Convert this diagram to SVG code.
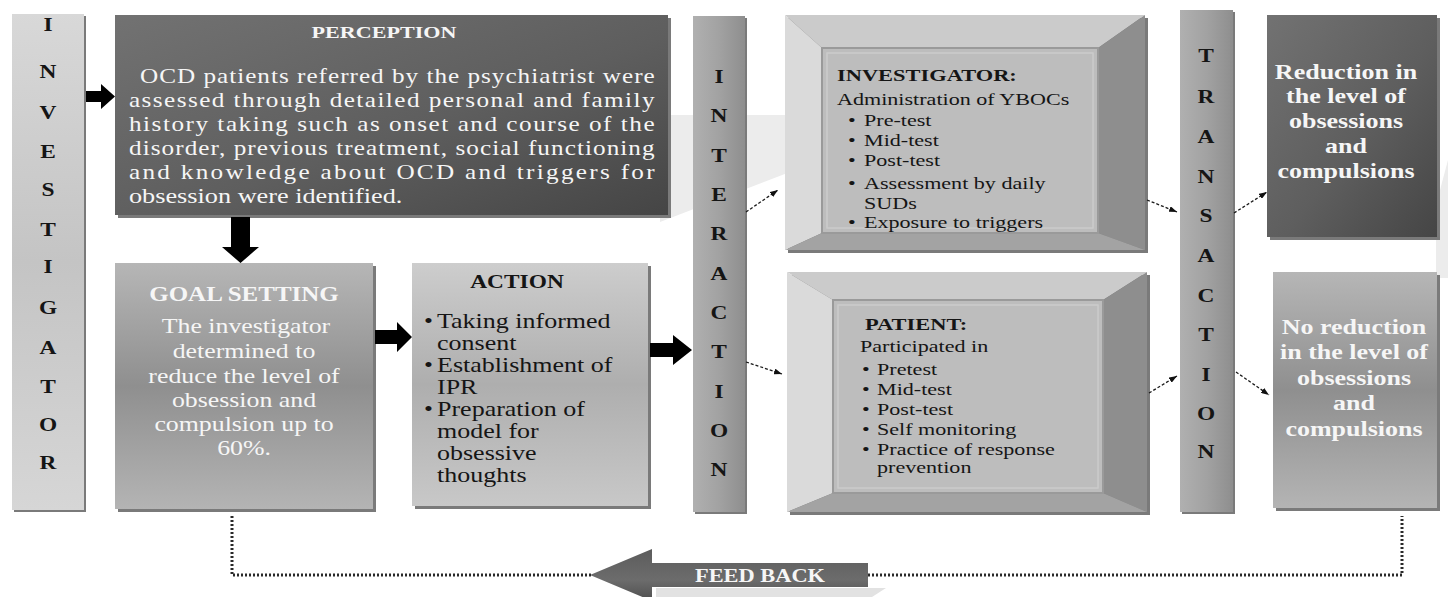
<svg xmlns="http://www.w3.org/2000/svg" width="1448" height="597" viewBox="0 0 1448 597">
<defs>
  <linearGradient id="gBarLight" x1="0" y1="0" x2="0" y2="1">
    <stop offset="0" stop-color="#d8d8d8"/><stop offset="0.5" stop-color="#c4c4c4"/><stop offset="1" stop-color="#d6d6d6"/>
  </linearGradient>
  <linearGradient id="gBarMid" x1="0" y1="0" x2="1" y2="0">
    <stop offset="0" stop-color="#b0b0b0"/><stop offset="0.5" stop-color="#a2a2a2"/><stop offset="1" stop-color="#8e8e8e"/>
  </linearGradient>
  <linearGradient id="gDark" x1="0" y1="0" x2="1" y2="1">
    <stop offset="0" stop-color="#727272"/><stop offset="0.55" stop-color="#5e5e5e"/><stop offset="1" stop-color="#454545"/>
  </linearGradient>
  <linearGradient id="gMid" x1="0" y1="0" x2="0" y2="1">
    <stop offset="0" stop-color="#b6b6b6"/><stop offset="0.5" stop-color="#8f8f8f"/><stop offset="1" stop-color="#b4b4b4"/>
  </linearGradient>
  <linearGradient id="gAction" x1="0" y1="0" x2="0" y2="1">
    <stop offset="0" stop-color="#cdcdcd"/><stop offset="0.5" stop-color="#aeaeae"/><stop offset="1" stop-color="#c8c8c8"/>
  </linearGradient>
  <linearGradient id="gFeed" x1="0" y1="0" x2="0" y2="1">
    <stop offset="0" stop-color="#5c5c5c"/><stop offset="0.6" stop-color="#6c6c6c"/><stop offset="1" stop-color="#4e4e4e"/>
  </linearGradient>
  <marker id="ah" viewBox="0 0 8 6" markerWidth="8" markerHeight="6" refX="8" refY="3" orient="auto" markerUnits="userSpaceOnUse">
    <path d="M0,0 L8,3 L0,6 z" fill="#111"/>
  </marker>
</defs>
<style>
  text{font-family:"Liberation Serif","Times New Roman",serif;}
  .shadow{fill:#7a7a7a;}
  .bar{font-size:18px;font-weight:bold;fill:#151515;text-anchor:middle;}
  .wt{fill:#f6f6f6;}
  .dk{fill:#151515;}
  .ttl{font-weight:bold;}
  .mid{text-anchor:middle;}
  .body20{font-size:20px;}
  .body21{font-size:21px;}
  .body17{font-size:17px;}
  .thin{stroke:#1a1a1a;stroke-width:1.3;stroke-dasharray:3 2;fill:none;marker-end:url(#ah);}
  .dots{stroke:#2a2a2a;stroke-width:3;stroke-dasharray:2 2;fill:none;}
  .block{fill:#000;}
</style>

<!-- faint background shapes -->
<g id="background" fill="#ececec">
  <polygon points="660,115 790,115 790,172 660,222"/>
  <polygon points="1436,205 1448,160 1448,278 1436,278"/>
  <polygon points="656,588 886,588 872,597 656,597" fill="#e2e2e2"/>
</g>

<!-- INVESTIGATOR bar -->
<g id="investigator-bar">
  <rect x="14" y="16" width="72" height="496" class="shadow"/>
  <rect x="12" y="14" width="72" height="496" fill="url(#gBarLight)"/>
  <text class="bar" transform="translate(48,0) scale(1.3,1)">
    <tspan x="0" y="31">I</tspan><tspan x="0" y="78">N</tspan><tspan x="0" y="119">V</tspan><tspan x="0" y="158">E</tspan><tspan x="0" y="196">S</tspan><tspan x="0" y="236">T</tspan><tspan x="0" y="273">I</tspan><tspan x="0" y="314">G</tspan><tspan x="0" y="354">A</tspan><tspan x="0" y="393">T</tspan><tspan x="0" y="431">O</tspan><tspan x="0" y="469">R</tspan>
  </text>
</g>

<!-- PERCEPTION -->
<g id="perception">
  <rect x="118" y="18" width="553" height="200" class="shadow"/>
  <rect x="115" y="15" width="553" height="200" fill="url(#gDark)"/>
  <text class="wt ttl mid" font-size="17" transform="translate(384,38) scale(1.3,1)">PERCEPTION</text>
  <g class="wt body21">
    <text transform="translate(140,83) scale(1.2,1)" textLength="429" lengthAdjust="spacing">OCD patients referred by the psychiatrist were</text>
    <text transform="translate(129,107) scale(1.2,1)" textLength="438" lengthAdjust="spacing">assessed through detailed personal and family</text>
    <text transform="translate(129,131) scale(1.2,1)" textLength="438" lengthAdjust="spacing">history taking such as onset and course of the</text>
    <text transform="translate(129,155) scale(1.2,1)" textLength="438" lengthAdjust="spacing">disorder, previous treatment, social functioning</text>
    <text transform="translate(129,179) scale(1.2,1)" textLength="438" lengthAdjust="spacing">and knowledge about OCD and triggers for</text>
    <text transform="translate(129,203) scale(1.25,1)">obsession were identified.</text>
  </g>
</g>

<!-- GOAL SETTING -->
<g id="goal-setting">
  <rect x="118" y="266" width="258" height="246" class="shadow"/>
  <rect x="115" y="263" width="258" height="246" fill="url(#gMid)"/>
  <text class="wt ttl mid" font-size="20" transform="translate(244,301) scale(1.25,1)">GOAL SETTING</text>
  <g class="wt body21 mid">
    <text transform="translate(246,333) scale(1.23,1)">The investigator</text>
    <text transform="translate(244,358) scale(1.23,1)">determined to</text>
    <text transform="translate(244,383) scale(1.23,1)">reduce the level of</text>
    <text transform="translate(244,407) scale(1.23,1)">obsession and</text>
    <text transform="translate(244,431) scale(1.23,1)">compulsion up to</text>
    <text transform="translate(244,455) scale(1.23,1)">60%.</text>
  </g>
</g>

<!-- ACTION -->
<g id="action">
  <rect x="415" y="266" width="236" height="243" class="shadow"/>
  <rect x="412" y="263" width="236" height="243" fill="url(#gAction)"/>
  <text class="dk ttl mid" font-size="18" transform="translate(517,288) scale(1.3,1)">ACTION</text>
  <g class="dk body20">
    <text transform="translate(424,328) scale(1.28,1)">•</text>
    <text transform="translate(437,328) scale(1.3,1)">Taking informed</text>
    <text transform="translate(437,350) scale(1.3,1)">consent</text>
    <text transform="translate(424,372) scale(1.28,1)">•</text>
    <text transform="translate(437,372) scale(1.3,1)">Establishment of</text>
    <text transform="translate(437,394) scale(1.3,1)">IPR</text>
    <text transform="translate(424,416) scale(1.28,1)">•</text>
    <text transform="translate(437,416) scale(1.3,1)">Preparation of</text>
    <text transform="translate(437,438) scale(1.3,1)">model for</text>
    <text transform="translate(437,460) scale(1.3,1)">obsessive</text>
    <text transform="translate(437,482) scale(1.3,1)">thoughts</text>
  </g>
</g>

<!-- INTERACTION bar -->
<g id="interaction-bar">
  <rect x="695" y="18" width="52" height="496" class="shadow"/>
  <rect x="693" y="16" width="52" height="496" fill="url(#gBarMid)"/>
  <text class="bar" transform="translate(719,0) scale(1.3,1)">
    <tspan x="0" y="83">I</tspan><tspan x="0" y="122">N</tspan><tspan x="0" y="162">T</tspan><tspan x="0" y="201">E</tspan><tspan x="0" y="240">R</tspan><tspan x="0" y="280">A</tspan><tspan x="0" y="319">C</tspan><tspan x="0" y="358">T</tspan><tspan x="0" y="398">I</tspan><tspan x="0" y="437">O</tspan><tspan x="0" y="476">N</tspan>
  </text>
</g>

<!-- INVESTIGATOR box -->
<g id="investigator-box">
  <rect x="788" y="18" width="360" height="235" class="shadow"/>
  <polygon points="785,15 1145,15 1098,48 822,48" fill="#cbcbcb"/>
  <polygon points="785,15 822,48 822,233 785,250" fill="#dadada"/>
  <polygon points="1145,15 1145,250 1098,233 1098,48" fill="#8e8e8e"/>
  <polygon points="785,250 1145,250 1098,233 822,233" fill="#a3a3a3"/>
  <rect x="822" y="48" width="276" height="185" fill="#bdbdbd" stroke="#9a9a9a" stroke-width="2"/>
  <rect x="827" y="53" width="266" height="175" fill="none" stroke="#cbcbcb" stroke-width="1.5"/>
  <g class="dk body17">
    <text class="ttl" transform="translate(837,81) scale(1.32,1)">INVESTIGATOR:</text>
    <text transform="translate(837,105) scale(1.3,1)">Administration of YBOCs</text>
    <text transform="translate(848,126) scale(1.3,1)">•</text>
    <text transform="translate(864,126) scale(1.3,1)">Pre-test</text>
    <text transform="translate(848,146) scale(1.3,1)">•</text>
    <text transform="translate(864,146) scale(1.3,1)">Mid-test</text>
    <text transform="translate(848,166) scale(1.3,1)">•</text>
    <text transform="translate(864,166) scale(1.3,1)">Post-test</text>
    <text transform="translate(848,189) scale(1.3,1)">•</text>
    <text transform="translate(864,189) scale(1.3,1)">Assessment by daily</text>
    <text transform="translate(864,209) scale(1.3,1)">SUDs</text>
    <text transform="translate(848,228) scale(1.3,1)">•</text>
    <text transform="translate(864,228) scale(1.3,1)">Exposure to triggers</text>
  </g>
</g>

<!-- PATIENT box -->
<g id="patient-box">
  <rect x="790" y="275" width="360" height="240" class="shadow"/>
  <polygon points="787,272 1147,272 1103,300 833,300" fill="#cbcbcb"/>
  <polygon points="787,272 833,300 833,493 787,512" fill="#dadada"/>
  <polygon points="1147,272 1147,512 1103,493 1103,300" fill="#8e8e8e"/>
  <polygon points="787,512 1147,512 1103,493 833,493" fill="#a3a3a3"/>
  <rect x="833" y="300" width="270" height="193" fill="#bdbdbd" stroke="#9a9a9a" stroke-width="2"/>
  <rect x="838" y="305" width="260" height="183" fill="none" stroke="#cbcbcb" stroke-width="1.5"/>
  <g class="dk body17">
    <text class="ttl" transform="translate(865,330) scale(1.32,1)">PATIENT:</text>
    <text transform="translate(860,352) scale(1.3,1)">Participated in</text>
    <text transform="translate(862,375) scale(1.3,1)">•</text>
    <text transform="translate(877,375) scale(1.3,1)">Pretest</text>
    <text transform="translate(862,395) scale(1.3,1)">•</text>
    <text transform="translate(877,395) scale(1.3,1)">Mid-test</text>
    <text transform="translate(862,415) scale(1.3,1)">•</text>
    <text transform="translate(877,415) scale(1.3,1)">Post-test</text>
    <text transform="translate(862,435) scale(1.3,1)">•</text>
    <text transform="translate(877,435) scale(1.3,1)">Self monitoring</text>
    <text transform="translate(862,455) scale(1.3,1)">•</text>
    <text transform="translate(877,455) scale(1.3,1)">Practice of response</text>
    <text transform="translate(877,473) scale(1.3,1)">prevention</text>
  </g>
</g>

<!-- TRANSACTION bar -->
<g id="transaction-bar">
  <rect x="1182" y="12" width="53" height="502" class="shadow"/>
  <rect x="1180" y="10" width="53" height="502" fill="url(#gBarMid)"/>
  <text class="bar" transform="translate(1206,0) scale(1.3,1)">
    <tspan x="0" y="62">T</tspan><tspan x="0" y="103">R</tspan><tspan x="0" y="143">A</tspan><tspan x="0" y="183">N</tspan><tspan x="0" y="222">S</tspan><tspan x="0" y="262">A</tspan><tspan x="0" y="302">C</tspan><tspan x="0" y="341">T</tspan><tspan x="0" y="381">I</tspan><tspan x="0" y="420">O</tspan><tspan x="0" y="458">N</tspan>
  </text>
</g>

<!-- Reduction box -->
<g id="reduction">
  <rect x="1270" y="18" width="170" height="222" class="shadow"/>
  <rect x="1267" y="15" width="170" height="222" fill="url(#gDark)"/>
  <g class="wt ttl mid" font-size="20">
    <text transform="translate(1346,79) scale(1.3,1)">Reduction in</text>
    <text transform="translate(1346,103) scale(1.3,1)">the level of</text>
    <text transform="translate(1346,128) scale(1.3,1)">obsessions</text>
    <text transform="translate(1346,153) scale(1.3,1)">and</text>
    <text transform="translate(1346,178) scale(1.3,1)">compulsions</text>
  </g>
</g>

<!-- No reduction box -->
<g id="no-reduction">
  <rect x="1276" y="275" width="164" height="236" class="shadow"/>
  <rect x="1273" y="272" width="164" height="236" fill="url(#gMid)"/>
  <g class="wt ttl mid" font-size="20">
    <text transform="translate(1354,334) scale(1.3,1)">No reduction</text>
    <text transform="translate(1354,359) scale(1.3,1)">in the level of</text>
    <text transform="translate(1354,385) scale(1.3,1)">obsessions</text>
    <text transform="translate(1354,410) scale(1.3,1)">and</text>
    <text transform="translate(1354,436) scale(1.3,1)">compulsions</text>
  </g>
</g>

<!-- Feedback arrow -->
<g id="feedback">
  <polygon points="590,575 652,549 652,563 868,563 868,587 652,587 652,601" fill="url(#gFeed)"/>
  <text class="wt ttl" font-size="19" x="760" y="582" text-anchor="middle" textLength="130" lengthAdjust="spacingAndGlyphs">FEED BACK</text>
</g>

<!-- Connectors -->
<g id="connectors">
  <polygon class="block" points="86,91 101,91 101,84 115,96.5 101,109 101,102 86,102"/>
  <polygon class="block" points="231,217 250,217 250,247 259,247 240.5,263 222,247 231,247"/>
  <polygon class="block" points="375,330 397,330 397,322 412,337 397,352 397,344 375,344"/>
  <polygon class="block" points="650,343 673,343 673,335 692,350 673,365 673,357 650,357"/>
  <line class="thin" x1="746" y1="212" x2="778" y2="190"/>
  <line class="thin" x1="746" y1="362" x2="782" y2="374"/>
  <line class="thin" x1="1147" y1="200" x2="1177" y2="212"/>
  <line class="thin" x1="1149" y1="393" x2="1177" y2="376"/>
  <line class="thin" x1="1234" y1="213" x2="1267" y2="192"/>
  <line class="thin" x1="1236" y1="372" x2="1269" y2="395"/>
  <polyline class="dots" points="232,516 232,575 593,575"/>
  <polyline class="dots" points="868,575 1402,575 1402,516"/>
</g>
</svg>
